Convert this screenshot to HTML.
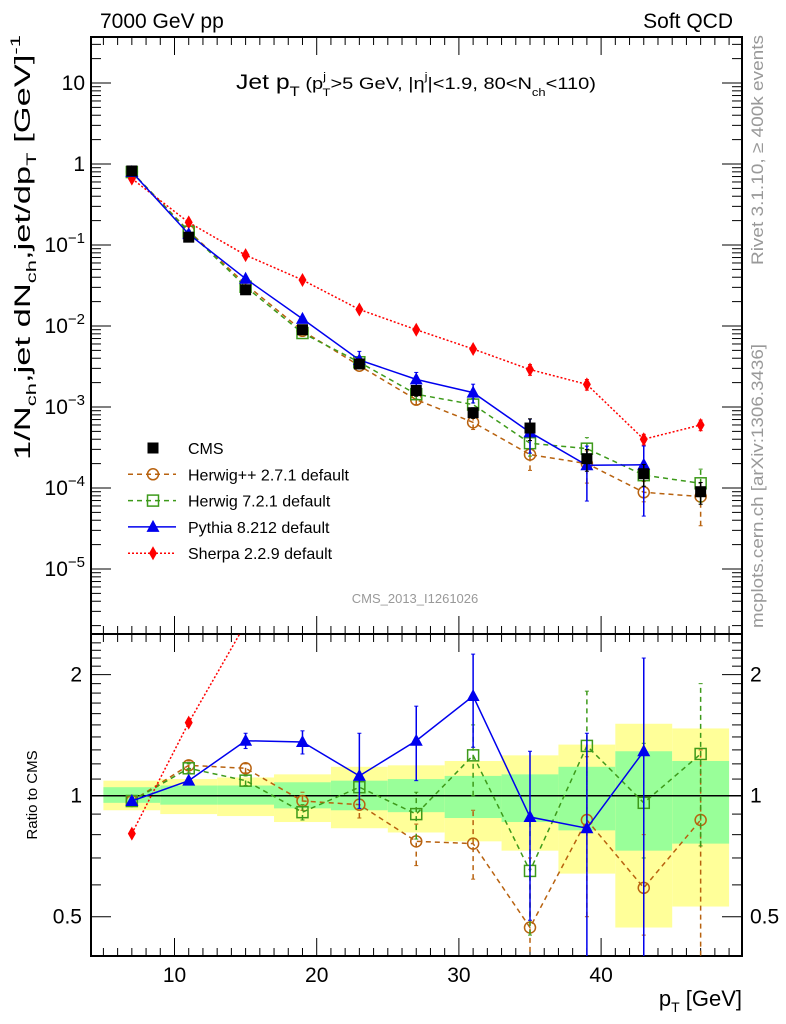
<!DOCTYPE html>
<html><head><meta charset="utf-8"><style>
body{margin:0;background:#fff}
svg{display:block;font-family:"Liberation Sans",sans-serif}
</style></head><body>
<svg id="chart" width="786" height="1024" xmlns="http://www.w3.org/2000/svg">
<g id="bands"></g>
<g id="grid"></g>
<g id="series"></g>
<text x="100" y="28" font-size="21">7000 GeV pp</text>
<text x="733" y="28" font-size="21" text-anchor="end">Soft QCD</text>
<text x="416" y="89" font-size="21" text-anchor="middle" textLength="360" lengthAdjust="spacingAndGlyphs">Jet p<tspan font-size="14" dy="7">T</tspan><tspan dy="-7" font-size="17"> (p</tspan><tspan font-size="11" dy="-9">j</tspan><tspan font-size="11" dx="-3" dy="16">T</tspan><tspan font-size="17" dy="-7">&gt;5 GeV, |η</tspan><tspan font-size="11" dy="-9">j</tspan><tspan font-size="17" dy="9">|&lt;1.9, 80&lt;N</tspan><tspan font-size="11" dy="7">ch</tspan><tspan font-size="17" dy="-7">&lt;110)</tspan></text>
<text x="415" y="603" font-size="13" fill="#999" text-anchor="middle">CMS_2013_I1261026</text>
<text transform="translate(763,265) rotate(-90)" font-size="17" fill="#999" textLength="230" lengthAdjust="spacingAndGlyphs">Rivet 3.1.10, ≥ 400k events</text>
<text transform="translate(763,628) rotate(-90)" font-size="17" fill="#999" textLength="284" lengthAdjust="spacingAndGlyphs">mcplots.cern.ch [arXiv:1306.3436]</text>
<text transform="translate(30,460) rotate(-90)" font-size="22" textLength="425" lengthAdjust="spacingAndGlyphs">1/N<tspan font-size="14" dy="6">ch</tspan><tspan dy="-6">,jet dN</tspan><tspan font-size="14" dy="6">ch</tspan><tspan dy="-6">,jet/dp</tspan><tspan font-size="14" dy="6">T</tspan><tspan dy="-6"> [GeV]</tspan><tspan font-size="14" dy="-10">-1</tspan></text>
<text transform="translate(37,795) rotate(-90)" font-size="15" text-anchor="middle">Ratio to CMS</text>
<text x="742" y="1006" font-size="22" text-anchor="end">p<tspan font-size="14" dy="6">T</tspan><tspan dy="-6"> [GeV]</tspan></text>
<g id="legend"></g>
</svg>
<script>
const xs=[7,11,15,19,23,27,31,35,39,43,47];
const cmsVals=[0.82,0.125,0.028,0.009,0.0034,0.0016,0.00085,0.00055,0.00023,0.00015,0.00009];
const cmsErr=[0.03,0.06,0.08,0.08,0.1,0.15,0.15,0.3,0.3,0.3,0.3];
const herwigppRatio=[0.97,1.19,1.17,0.97,0.95,0.77,0.76,0.47,0.87,0.59,0.87];
const herwig7Ratio=[0.97,1.17,1.09,0.91,1.05,0.90,1.26,0.65,1.33,0.96,1.27];
const pythiaRatio=[0.97,1.09,1.37,1.36,1.12,1.37,1.77,0.885,0.83,1.29];
const pythiaHi=[0.99,1.11,1.43,1.45,1.43,1.67,2.25,1.29,1.43,2.2];
const pythiaLo=[0.95,1.07,1.31,1.27,0.93,1.09,1.32,0.49,0.3,0.3];
const herwigppHi=[0.99,1.22,1.2,1.02,1.0,0.85,0.92,0.7,1.25,0.8,1.3];
const herwigppLo=[0.95,1.16,1.14,0.92,0.88,0.67,0.62,0.3,0.5,0.45,0.38];
const herwig7Hi=[0.99,1.2,1.12,0.95,1.1,1.02,1.5,0.9,1.82,1.35,1.9];
const herwig7Lo=[0.95,1.14,1.06,0.87,0.98,0.78,1.0,0.45,0.82,0.7,0.75];
const sherpaVals=[0.66,0.19,0.075,0.037,0.016,0.009,0.0052,0.0029,0.0019,0.0004,0.0006];
const bandEdges=[5,9,13,17,21,25,29,33,37,41,45,49];
const yellowHi=[1.09,1.1,1.11,1.13,1.18,1.19,1.22,1.26,1.34,1.51,1.47];
const yellowLo=[0.92,0.90,0.89,0.86,0.83,0.81,0.77,0.73,0.64,0.47,0.53];
const greenHi=[1.05,1.06,1.06,1.08,1.09,1.10,1.12,1.13,1.18,1.29,1.22];
const greenLo=[0.96,0.95,0.95,0.93,0.92,0.91,0.88,0.86,0.82,0.73,0.76];
const mainTicks=[10,1,0.1,0.01,0.001,0.0001,0.00001];
const mainTickLabels=["10","1","10^-1","10^-2","10^-3","10^-4","10^-5"];
const ratioTicks=[0.5,1,2];
const xTicks=[10,20,30,40];

const NS="http://www.w3.org/2000/svg";
const L=91,R=742,T=37,D=634,B=956;
const X=v=>174.5+(v-10)*14.22;
const Y=v=>164-81*Math.log10(v);
const RY=r=>795.7-402*Math.log10(r);
function mk(tag,at,parent){const e=document.createElementNS(NS,tag);for(const k in at)e.setAttribute(k,at[k]);parent.appendChild(e);return e;}
const bands=document.getElementById('bands'),grid=document.getElementById('grid'),ser=document.getElementById('series'),leg=document.getElementById('legend');
const clipR=v=>Math.min(B,Math.max(D,v));
const defs=mk('defs',{},document.getElementById('chart'));
const c1=mk('clipPath',{id:'cm'},defs);mk('rect',{x:L,y:T,width:R-L,height:D-T},c1);
const c2=mk('clipPath',{id:'cr'},defs);mk('rect',{x:L,y:D,width:R-L,height:B-D},c2);
for(let i=0;i<yellowHi.length;i++){
  const x0=X(bandEdges[i]),x1=X(bandEdges[i+1]);
  const y=mk('rect',{x:x0,y:clipR(RY(yellowHi[i])),width:x1-x0,height:clipR(RY(yellowLo[i]))-clipR(RY(yellowHi[i])),fill:'#ffff99'},bands);
  
  
  const g=mk('rect',{x:x0,y:RY(greenHi[i]),width:x1-x0,height:RY(greenLo[i])-RY(greenHi[i]),fill:'#99ff99'},bands);
  
  
}
mk('line',{x1:L,x2:R,y1:RY(1),y2:RY(1),stroke:'#000','stroke-width':1.5},grid);
mk('rect',{x:L,y:T,width:R-L,height:B-T,fill:'none',stroke:'#000','stroke-width':2},grid);
mk('line',{x1:L,x2:R,y1:D,y2:D,stroke:'#000','stroke-width':2},grid);
for(let v=5;v<=49;v++){
  const big=v%10==0,len=big?18:8;const x=X(v);
  for(const [y0,dir] of [[T,1],[D,-1],[D,1],[B,-1]]) mk('line',{x1:x,x2:x,y1:y0,y2:y0+dir*len,stroke:'#000','stroke-width':1},grid);
}
xTicks.forEach(v=>{const t=mk('text',{x:X(v),y:982,'font-size':21,'text-anchor':'middle'},grid);t.textContent=v;
 
 });
for(let e=-6;e<=1;e++){for(let m=1;m<10;m++){const v=m*Math.pow(10,e);const y=Y(v);if(y<T||y>D)continue;const len=m==1?20:10;
 mk('line',{x1:L,x2:L+len,y1:y,y2:y,stroke:'#000'},grid);mk('line',{x1:R,x2:R-len,y1:y,y2:y,stroke:'#000'},grid);}}
mainTicks.forEach((v,i)=>{const s=mainTickLabels[i];const t=mk('text',{x:85,y:Y(v)+7,'font-size':21,'text-anchor':'end'},grid);
 
 
 if(s.includes('^')){const [b,p]=s.split('^');t.innerHTML=b+'<tspan font-size="15" dy="-9">−'+p.slice(1)+'</tspan>';}else t.textContent=s;});
for(let r=0.4;r<=2.5;r+=0.1){const y=RY(r);if(y<D||y>B)continue;const big=[0.5,1,2].some(q=>Math.abs(q-r)<1e-6);const len=big?20:10;
 mk('line',{x1:L,x2:L+len,y1:y,y2:y,stroke:'#000'},grid);mk('line',{x1:R,x2:R-len,y1:y,y2:y,stroke:'#000'},grid);}
ratioTicks.forEach(v=>{for(const [x,a] of [[82,'end'],[750,'start']]){const t=mk('text',{x:x,y:RY(v)+7,'font-size':21,'text-anchor':a},grid);t.textContent=v;
 
 }});
function marker(kind,x,y,col,g){
 if(kind=='sq')return mk('rect',{x:x-5.5,y:y-5.5,width:11,height:11,fill:col},g);
 if(kind=='osq')return mk('rect',{x:x-5.5,y:y-5.5,width:11,height:11,fill:'none',stroke:col,'stroke-width':1.5},g);
 if(kind=='oc')return mk('circle',{cx:x,cy:y,r:5.5,fill:'none',stroke:col,'stroke-width':1.5},g);
 if(kind=='tri')return mk('path',{d:`M${x} ${y-7}L${x+6.5} ${y+5}L${x-6.5} ${y+5}Z`,fill:col},g);
 if(kind=='dia')return mk('path',{d:`M${x} ${y-7}L${x+4} ${y}L${x} ${y+7}L${x-4} ${y}Z`,fill:col},g);
}
function series(name,kind,col,dash,vals,lo,hi,clip,yf){
 const g=mk('g',{'clip-path':`url(#${clip})`},ser);
 
 
 const pts=vals.map((v,i)=>[X(xs[i]),yf(v)]);
 if(dash!==null)mk('polyline',{points:pts.map(p=>p.join(',')).join(' '),fill:'none',stroke:col,'stroke-width':1.5,'stroke-dasharray':dash},g);
 vals.forEach((v,i)=>{if(lo){const x=X(xs[i]);mk('line',{x1:x,x2:x,y1:yf(lo[i]),y2:yf(hi[i]),stroke:col,'stroke-width':1.5,'stroke-dasharray':dash||''},g);
   mk('line',{x1:x-2,x2:x+2,y1:yf(lo[i]),y2:yf(lo[i]),stroke:col},g);mk('line',{x1:x-2,x2:x+2,y1:yf(hi[i]),y2:yf(hi[i]),stroke:col},g);}
   marker(kind,pts[i][0],pts[i][1],col,g);});
}
const HPP='#b8620f',H7='#3d9a1a',PY='#0000ee',SH='#ff0000';
const mul=(r,i)=>r*cmsVals[i];
series('herwigpp-main','oc',HPP,'5,4',herwigppRatio.map(mul),herwigppLo.map(mul),herwigppHi.map(mul),'cm',Y);
series('herwig7-main','osq',H7,'5,4',herwig7Ratio.map(mul),herwig7Lo.map(mul),herwig7Hi.map(mul),'cm',Y);
series('sherpa-main','dia',SH,'2,2',sherpaVals,sherpaVals.map((v,i)=>v*(1-cmsErr[i]*0.5)),sherpaVals.map((v,i)=>v*(1+cmsErr[i]*0.5)),'cm',Y);
series('pythia-main','tri',PY,'',pythiaRatio.map(mul),pythiaLo.map(mul),pythiaHi.map(mul),'cm',Y);
series('cms-data','sq','#000',null,cmsVals,cmsVals.map((v,i)=>v*(1-cmsErr[i])),cmsVals.map((v,i)=>v*(1+cmsErr[i])),'cm',Y);
series('herwigpp-ratio','oc',HPP,'5,4',herwigppRatio,herwigppLo,herwigppHi,'cr',RY);
series('herwig7-ratio','osq',H7,'5,4',herwig7Ratio,herwig7Lo,herwig7Hi,'cr',RY);
series('sherpa-ratio','dia',SH,'2,2',sherpaVals.map((v,i)=>v/cmsVals[i]),null,null,'cr',RY);
series('pythia-ratio','tri',PY,'',pythiaRatio,pythiaLo,pythiaHi,'cr',RY);
const legendNames=['CMS','Herwig++ 2.7.1 default','Herwig 7.2.1 default','Pythia 8.212 default','Sherpa 2.2.9 default'];
const legendStyle=[['sq','#000',null],['oc',HPP,'5,4'],['osq',H7,'5,4'],['tri',PY,''],['dia',SH,'2,2']];
legendNames.forEach((n,i)=>{const y=448+i*26.3;const g=mk('g',{},leg);
 
 
 const [k,c,d]=legendStyle[i];
 if(d!==null)mk('line',{x1:128,x2:176,y1:y,y2:y,stroke:c,'stroke-width':1.5,'stroke-dasharray':d},g);
 marker(k,153,y,c,g);
 const t=mk('text',{x:188,y:y+6,'font-size':16},g);t.textContent=n;});
</script>
</body></html>
